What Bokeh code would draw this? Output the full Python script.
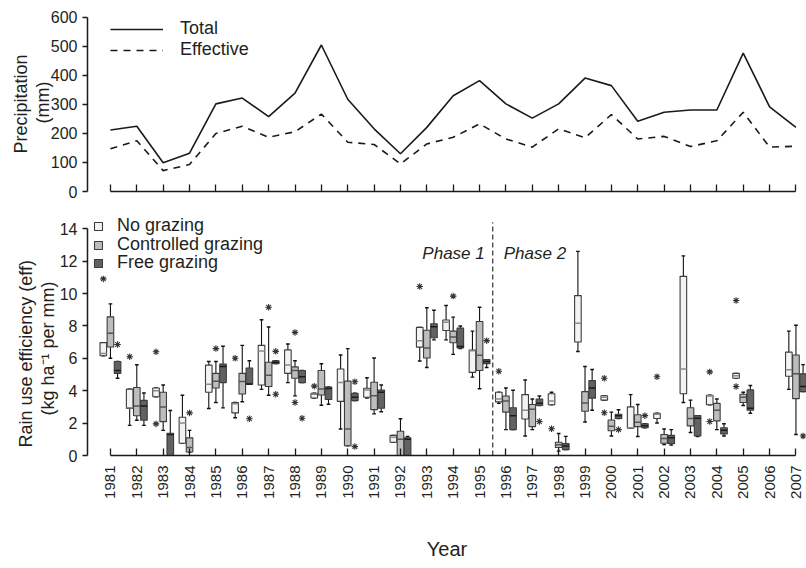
import numpy as np
from math import pi
from bokeh.plotting import figure
from bokeh.layouts import column
from bokeh.models import FixedTicker, Legend, LegendItem, Label, Range1d, Title
from bokeh.embed import file_html
from bokeh.resources import INLINE

nan = float("nan")
FONT = "Liberation Sans"
TXT = "#231f20"

years = list(range(1981, 2008))
total = [212, 225, 99, 132, 302, 322, 258, 339, 505, 318, 216, 130,
         221, 330, 382, 302, 253, 302, 391, 365, 242, 273, 281, 281, 477, 292, 221]
effective = [147, 175, 72, 93, 200, 225, 187, 206, 267, 170, 162, 95,
             164, 187, 233, 181, 153, 216, 185, 265, 181, 190, 155, 175, 273, 153, 156]

# box statistics per treatment: lower whisker, q1, median, q3, upper whisker
ng_lo  = [6.16, 1.86, 3.63, 0.76, 2.90, 2.33, 4.08, 4.50, 3.55, 1.64, 3.55, 0.82, 5.83, 7.14, 4.84, 3.22, 1.20, 3.13, 6.42, 3.42, 1.69, 2.01, 3.27, 3.13, 4.77, nan, 4.08]
ng_q1  = [6.16, 2.90, 3.63, 0.76, 3.90, 2.63, 4.35, 5.07, 3.55, 3.34, 3.60, 0.82, 6.69, 7.72, 5.13, 3.31, 2.25, 3.13, 7.01, 3.42, 1.69, 2.28, 3.81, 3.13, 4.77, nan, 4.89]
ng_med = [6.30, 2.95, 4.00, 2.00, 4.40, 3.20, 6.45, 5.58, 3.78, 4.50, 4.05, 1.13, 7.09, 8.22, 6.46, 3.49, 2.79, 3.36, 8.17, 3.60, 1.72, 2.55, 5.34, 3.67, 4.93, nan, 5.29]
ng_q3  = [6.97, 4.10, 4.17, 2.36, 5.58, 3.27, 6.80, 6.52, 3.84, 5.34, 4.15, 1.24, 7.91, 8.36, 6.51, 3.90, 3.76, 3.81, 9.87, 3.69, 3.00, 2.61, 11.06, 3.72, 5.07, nan, 6.38]
ng_hi  = [6.97, 4.10, 4.17, 3.72, 5.80, 3.27, 8.38, 6.88, 3.84, 6.20, 4.80, 1.24, 7.91, 9.26, 7.68, 3.90, 4.66, 3.90, 12.60, 3.69, 3.76, 2.61, 12.32, 3.72, 5.07, nan, 7.68]

cg_lo  = [6.00, 2.18, 1.55, 0.22, 3.27, 3.32, 3.72, 3.68, 3.10, 0.60, 2.57, 0.00, 5.43, 6.24, 4.12, 1.60, 1.60, 0.27, 2.07, 1.20, 1.17, 0.67, 1.42, 1.60, 3.09, nan, 1.30]
cg_q1  = [6.70, 2.45, 2.09, 0.22, 4.17, 3.80, 4.26, 4.77, 3.73, 0.60, 2.83, 0.00, 6.02, 6.96, 5.25, 2.68, 1.78, 0.49, 2.73, 1.53, 1.78, 0.76, 1.83, 2.14, 3.27, nan, 3.51]
cg_med = [7.55, 3.05, 3.00, 0.50, 4.59, 4.57, 4.95, 5.25, 4.10, 1.64, 3.69, 1.00, 6.64, 7.32, 6.19, 3.36, 2.86, 0.67, 3.24, 1.80, 2.05, 1.05, 2.28, 2.79, 3.60, nan, 5.04]
cg_q3  = [8.56, 4.20, 3.90, 1.09, 5.07, 5.07, 5.76, 5.47, 5.25, 4.59, 4.52, 1.50, 7.73, 7.68, 8.27, 3.67, 3.15, 0.82, 3.94, 2.19, 2.52, 1.30, 2.95, 3.22, 3.78, nan, 6.20]
cg_hi  = [9.36, 5.60, 4.35, 1.55, 5.80, 6.80, 7.93, 5.85, 5.66, 6.60, 6.02, 2.27, 9.12, 8.54, 9.15, 4.17, 3.49, 1.36, 5.49, 2.68, 3.15, 1.64, 3.42, 3.49, 3.90, nan, 8.04]

fg_lo  = [4.77, 1.86, 0.00, nan, 2.94, 4.40, 5.67, 4.50, 3.16, 3.39, 2.70, 0.00, 7.14, 6.60, 5.43, 1.60, 3.09, 0.36, 2.79, 2.28, 1.71, 0.64, 1.17, 1.20, 2.61, nan, 3.94]
fg_q1  = [5.07, 2.18, 0.00, nan, 4.50, 4.40, 5.67, 4.50, 3.46, 3.39, 2.92, 0.00, 7.27, 6.64, 5.67, 1.60, 3.09, 0.36, 3.54, 2.28, 1.71, 0.73, 1.20, 1.33, 2.79, nan, 3.94]
fg_med = [5.25, 3.05, 1.30, nan, 5.50, 4.42, 5.76, 4.86, 4.14, 3.60, 3.90, 1.00, 7.95, 6.73, 5.80, 2.46, 3.22, 0.58, 4.17, 2.46, 1.83, 1.09, 2.30, 1.56, 2.91, nan, 4.26]
fg_q3  = [5.80, 3.40, 1.37, nan, 5.65, 5.40, 5.85, 5.25, 4.23, 3.84, 4.04, 1.09, 8.13, 7.86, 5.92, 2.95, 3.49, 0.73, 4.62, 2.55, 1.96, 1.24, 2.46, 1.71, 4.05, nan, 5.04]
fg_hi  = [5.80, 3.86, 2.78, nan, 6.74, 5.85, 5.85, 5.25, 4.23, 3.84, 4.35, 1.18, 8.97, 7.99, 5.92, 4.03, 3.67, 1.18, 5.31, 2.82, 1.96, 1.60, 2.46, 1.96, 4.32, nan, 5.61]

# outliers: year, treatment slot (-1 no, 0 controlled, 1 free), value
out_year = [1981, 1981, 1982, 1983, 1983, 1984, 1985, 1986, 1986, 1987, 1987, 1987, 1988, 1988, 1988,
            1989, 1990, 1990, 1993, 1994, 1995, 1996, 1997, 1998, 2000, 2000, 2000, 2001, 2002,
            2004, 2004, 2005, 2005, 2007]
out_slot = [-1, 1, -1, -1, -1, 0, 0, -1, 1, 0, 1, 1, 0, 0, 1,
            -1, 1, 1, -1, 0, 1, -1, 1, -1, -1, -1, 1, 1, -1,
            -1, -1, -1, -1, 1]
out_val = [10.9, 6.85, 6.1, 6.4, 1.95, 2.63, 6.6, 6.0, 2.27, 9.15, 6.43, 3.78, 7.6, 3.27, 2.3,
           4.28, 4.55, 0.55, 10.43, 9.84, 7.09, 5.2, 2.1, 1.65, 4.77, 2.64, 1.6, 2.46, 4.86,
           5.16, 2.1, 9.57, 4.26, 1.2]

treatments = ["No grazing", "Controlled grazing", "Free grazing"]
phase_boundary = 1995.5
phase_labels = ["Phase 1", "Phase 2"]

fills = ["#f3f3f3", "#bdbdbd", "#626262"]
median_cols = ["#8a8a8a", "#555555", "#1a1a1a"]

STEP = 0.27
W = 0.25
CAP = 0.07

xr = Range1d(1980.13, 2007.4)


def side_title(p, text, offset, standoff, fallback):
    t = Title(text=text, align="left", offset=offset,
              text_font=FONT, text_font_size="18px", text_font_style="normal",
              text_color=TXT)
    try:
        t.standoff = standoff
    except Exception:
        t.standoff = fallback
    p.add_layout(t, "left")


# ---------------- top panel ----------------
top = figure(frame_width=719, frame_height=179, x_range=xr, y_range=Range1d(0, 617),
             output_backend="svg", toolbar_location=None,
             min_border_left=87, min_border_right=0, min_border_top=12, min_border_bottom=19)
l1 = top.line(years, total, line_color="#1a1a1a", line_width=1.6)
l2 = top.line(years, effective, line_color="#1a1a1a", line_width=1.6, line_dash="7 6")
leg1 = Legend(items=[LegendItem(label="Total", renderers=[l1]),
                     LegendItem(label="Effective", renderers=[l2])],
              location=(23, 131), glyph_width=53, glyph_height=20, label_height=20,
              spacing=0, padding=0, margin=0, label_standoff=17,
              label_text_font=FONT, label_text_font_size="18px", label_text_color=TXT,
              border_line_color=None, background_fill_alpha=0)
top.add_layout(leg1, "center")

# ---------------- bottom panel ----------------
bot = figure(frame_width=719, frame_height=243, x_range=xr, y_range=Range1d(0, 15.0),
             output_backend="svg", toolbar_location=None,
             min_border_left=87, min_border_right=0, min_border_top=2, min_border_bottom=110)

stats = [(ng_lo, ng_q1, ng_med, ng_q3, ng_hi),
         (cg_lo, cg_q1, cg_med, cg_q3, cg_hi),
         (fg_lo, fg_q1, fg_med, fg_q3, fg_hi)]
yr = np.array(years, dtype=float)
box_renderers = []
for i, (lo, q1, med, q3, hi) in enumerate(stats):
    x = yr + (i - 1) * STEP
    lo, q1, med, q3, hi = map(np.array, (lo, q1, med, q3, hi))
    bot.segment(x, q3, x, hi, line_color="#111111", line_width=1.1)
    bot.segment(x, lo, x, q1, line_color="#111111", line_width=1.1)
    bot.segment(x - CAP, hi, x + CAP, hi, line_color="#111111", line_width=1.4)
    bot.segment(x - CAP, lo, x + CAP, lo, line_color="#111111", line_width=1.4)
    r = bot.quad(left=x - W / 2, right=x + W / 2, bottom=q1, top=q3,
                 fill_color=fills[i], line_color="#3c3c3c", line_width=1.1)
    bot.segment(x - W / 2, med, x + W / 2, med, line_color=median_cols[i], line_width=1.5)
    box_renderers.append(r)

ox = np.array(out_year, dtype=float) + np.array(out_slot, dtype=float) * STEP
bot.scatter(ox, out_val, marker="asterisk", size=6.5, line_color="#333333", line_width=1.1)

bot.segment(x0=[phase_boundary], y0=[0], x1=[phase_boundary], y1=[14.4],
            line_color="#333333", line_width=1.2, line_dash="5 3")
bot.add_layout(Label(x=phase_boundary, y=12.5, x_offset=-8, text=phase_labels[0], text_align="right",
                     text_baseline="middle", text_font=FONT, text_font_style="italic",
                     text_font_size="17px", text_color=TXT))
bot.add_layout(Label(x=phase_boundary, y=12.5, x_offset=11, text=phase_labels[1], text_align="left",
                     text_baseline="middle", text_font=FONT, text_font_style="italic",
                     text_font_size="17px", text_color=TXT))

# one legend per treatment so the row pitch can match the reference
legend_y = [219, 200, 182]
for t, r, ly in zip(treatments, box_renderers, legend_y):
    lg = Legend(items=[LegendItem(label=t, renderers=[r])],
                location=(6, ly), glyph_width=10, glyph_height=10, label_height=18,
                spacing=0, padding=0, margin=0, label_standoff=14,
                label_text_font=FONT, label_text_font_size="18px", label_text_color=TXT,
                border_line_color=None, background_fill_alpha=0)
    bot.add_layout(lg, "center")

# ---------------- axes styling ----------------
for p in (top, bot):
    p.grid.visible = False
    p.outline_line_color = None
    p.background_fill_color = "white"
    for ax in (p.xaxis[0], p.yaxis[0]):
        ax.axis_line_color = "#1a1a1a"
        ax.axis_line_width = 1.5
        ax.major_tick_line_color = "#1a1a1a"
        ax.major_tick_line_width = 1.3
        ax.minor_tick_line_color = None
        ax.major_label_text_font = FONT
        ax.major_label_text_color = TXT
        ax.axis_label_text_font = FONT
        ax.axis_label_text_font_style = "normal"
        ax.axis_label_text_color = TXT
    p.xaxis.ticker = FixedTicker(ticks=years)
    p.xaxis.bounds = (years[0], years[-1])
    p.xaxis.major_tick_in = 7
    p.xaxis.major_tick_out = 0
    p.yaxis.major_tick_in = 0
    p.yaxis.major_tick_out = 5
    p.yaxis.major_label_text_font_size = "16px"
    p.yaxis.axis_label = None

top.xaxis.major_label_overrides = {y: "" for y in years}
top.xaxis.major_label_standoff = 0
top.yaxis.ticker = FixedTicker(ticks=[0, 100, 200, 300, 400, 500, 600])
top.yaxis.bounds = (0, 600)
top.yaxis.axis_label_standoff = 0
side_title(top, "(mm)", 68, -10, 0)
side_title(top, "Precipitation", 38, 9, 2)

bot.yaxis.ticker = FixedTicker(ticks=[0, 2, 4, 6, 8, 10, 12, 14])
bot.yaxis.bounds = (0, 14)
bot.yaxis.axis_label_standoff = 2
side_title(bot, "(kg ha\u207b\u00b9 per mm)", 40, -2, 1)
side_title(bot, "Rain use efficiency (eff)", 8, 2, 2)

bot.xaxis.major_label_orientation = pi / 2
bot.xaxis.major_label_text_font_size = "15px"
bot.xaxis.major_label_standoff = 10
bot.xaxis.axis_label = "Year"
bot.xaxis.axis_label_text_font_size = "20px"
bot.xaxis.axis_label_standoff = 36

layout = column(top, bot, spacing=0)
open("out.html", "w").write(file_html(layout, INLINE))
